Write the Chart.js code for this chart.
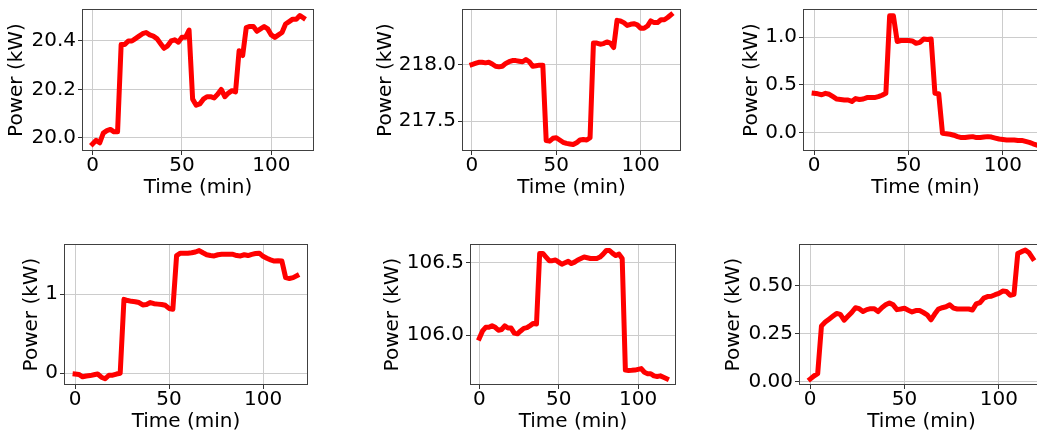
<!DOCTYPE html>
<html>
<head>
<meta charset="utf-8">
<script src="https://cdn.jsdelivr.net/npm/chart.js@4.4.1/dist/chart.umd.min.js"></script>
<style>
  html, body { margin: 0; padding: 0; background: #fff; overflow: hidden; width: 1037px; height: 434px; }
  canvas { position: absolute; }
</style>
</head>
<body>
<canvas id="c1"></canvas>
<canvas id="c2"></canvas>
<canvas id="c3"></canvas>
<canvas id="c4"></canvas>
<canvas id="c5"></canvas>
<canvas id="c6"></canvas>
<script>
// time axis (minutes)
const times = [0, 2, 4, 6, 8, 10, 12, 14, 16, 18, 20, 22, 24, 26, 28, 30, 32, 34, 36, 38,
  40, 42, 44, 46, 48, 50, 52, 54, 56, 58, 60, 62, 64, 66, 68, 70, 72, 74, 76, 78,
  80, 82, 84, 86, 88, 90, 92, 94, 96, 98, 100, 102, 104, 106, 108, 110, 112, 114, 116, 118];
const xTickLabels = ['0', '50', '100'];

// power series (kW), one per panel
const power1 = [19.975, 19.99, 19.98, 20.02, 20.03, 20.035, 20.025, 20.025, 20.385, 20.385,
  20.40, 20.40, 20.41, 20.42, 20.43, 20.435, 20.425, 20.42, 20.41, 20.39,
  20.37, 20.38, 20.40, 20.405, 20.395, 20.415, 20.415, 20.445, 20.16, 20.135,
  20.14, 20.16, 20.17, 20.17, 20.165, 20.18, 20.20, 20.17, 20.185, 20.195,
  20.19, 20.36, 20.34, 20.455, 20.46, 20.46, 20.44, 20.45, 20.46, 20.45,
  20.425, 20.415, 20.425, 20.435, 20.47, 20.48, 20.49, 20.49, 20.505, 20.495];
const power2 = [218.00, 218.01, 218.02, 218.02, 218.015, 218.02, 218.005, 217.985, 217.98, 217.985,
  218.01, 218.025, 218.035, 218.035, 218.03, 218.025, 218.045, 218.025, 217.985, 217.99,
  217.995, 217.995, 217.33, 217.325, 217.35, 217.355, 217.335, 217.315, 217.305, 217.30,
  217.295, 217.31, 217.335, 217.34, 217.335, 217.355, 218.19, 218.19, 218.18, 218.185,
  218.20, 218.19, 218.15, 218.39, 218.385, 218.37, 218.345, 218.355, 218.36, 218.35,
  218.32, 218.32, 218.34, 218.385, 218.37, 218.37, 218.395, 218.395, 218.415, 218.44];
const power3 = [0.41, 0.405, 0.395, 0.41, 0.40, 0.375, 0.35, 0.345, 0.34, 0.34,
  0.325, 0.355, 0.345, 0.35, 0.365, 0.365, 0.365, 0.375, 0.39, 0.41,
  1.225, 1.225, 0.955, 0.965, 0.965, 0.965, 0.96, 0.935, 0.945, 0.98,
  0.975, 0.98, 0.41, 0.405, -0.01, -0.015, -0.02, -0.03, -0.045, -0.055,
  -0.055, -0.05, -0.045, -0.055, -0.055, -0.05, -0.045, -0.05, -0.06, -0.07,
  -0.075, -0.08, -0.08, -0.08, -0.085, -0.085, -0.095, -0.105, -0.12, -0.133];
const power4 = [-0.01, -0.015, -0.045, -0.035, -0.03, -0.02, -0.01, -0.05, -0.07, -0.025,
  -0.025, -0.01, 0.0, 0.935, 0.92, 0.91, 0.905, 0.895, 0.865, 0.87,
  0.895, 0.88, 0.875, 0.87, 0.86, 0.82, 0.81, 1.49, 1.52, 1.52,
  1.52, 1.525, 1.535, 1.553, 1.525, 1.50, 1.49, 1.485, 1.50, 1.505,
  1.505, 1.505, 1.505, 1.49, 1.485, 1.50, 1.49, 1.505, 1.515, 1.52,
  1.48, 1.455, 1.435, 1.42, 1.425, 1.42, 1.21, 1.20, 1.21, 1.235];
const power5 = [105.98, 106.03, 106.055, 106.055, 106.065, 106.055, 106.035, 106.04, 106.065, 106.05,
  106.05, 106.015, 106.01, 106.03, 106.048, 106.053, 106.067, 106.082, 106.078, 106.565,
  106.565, 106.54, 106.515, 106.515, 106.52, 106.505, 106.49, 106.50, 106.51, 106.495,
  106.505, 106.52, 106.53, 106.54, 106.535, 106.53, 106.53, 106.53, 106.54, 106.56,
  106.585, 106.585, 106.565, 106.55, 106.56, 106.53, 105.76, 105.757, 105.758, 105.76,
  105.765, 105.77, 105.745, 105.735, 105.735, 105.72, 105.716, 105.72, 105.71, 105.70];
const power6 = [0.012, 0.028, 0.04, 0.29, 0.31, 0.325, 0.34, 0.355, 0.35, 0.32,
  0.34, 0.36, 0.385, 0.38, 0.365, 0.375, 0.38, 0.38, 0.365, 0.385,
  0.40, 0.41, 0.40, 0.375, 0.378, 0.382, 0.372, 0.363, 0.37, 0.37,
  0.36, 0.348, 0.322, 0.352, 0.378, 0.385, 0.39, 0.40, 0.383, 0.378,
  0.378, 0.378, 0.378, 0.373, 0.405, 0.412, 0.435, 0.443, 0.445, 0.453,
  0.46, 0.472, 0.47, 0.45, 0.455, 0.668, 0.678, 0.686, 0.672, 0.642];

// y tick labels per panel
const yTickLabels1 = ['20.0', '20.2', '20.4'];
const yTickLabels2 = ['217.5', '218.0'];
const yTickLabels3 = ['0.0', '0.5', '1.0'];
const yTickLabels4 = ['0', '1'];
const yTickLabels5 = ['106.0', '106.5'];
const yTickLabels6 = ['0.00', '0.25', '0.50'];

// panel placement: frame box [left, top, right, bottom], y-label centre x, y limits
const panels = [
  { id: 'c1', data: power1, yTicks: yTickLabels1, frame: [82, 9, 314, 151], yTitleX: 17, yMin: 19.946, yMax: 20.532 },
  { id: 'c2', data: power2, yTicks: yTickLabels2, frame: [462, 9, 681, 151], yTitleX: 386, yMin: 217.238, yMax: 218.49 },
  { id: 'c3', data: power3, yTicks: yTickLabels3, frame: [803, 9, 1048, 151], yTitleX: 752, yMin: -0.196, yMax: 1.296 },
  { id: 'c4', data: power4, yTicks: yTickLabels4, frame: [64, 244, 308, 385], yTitleX: 32, yMin: -0.149, yMax: 1.636 },
  { id: 'c5', data: power5, yTicks: yTickLabels5, frame: [470, 244, 676, 385], yTitleX: 393, yMin: 105.657, yMax: 106.63 },
  { id: 'c6', data: power6, yTicks: yTickLabels6, frame: [799, 244, 1044, 385], yTitleX: 734, yMin: -0.019, yMax: 0.718 }
];

const FONT = 'DejaVu Sans';
const PAD_TOP = 4, PAD_RIGHT = 4, X_AXIS_H = 49, TITLE_HALF = 12;

// axes box like matplotlib spines
const framePlugin = {
  id: 'frame',
  afterDatasetsDraw(chart) {
    const { ctx, chartArea: a } = chart;
    ctx.save();
    ctx.strokeStyle = '#404040';
    ctx.lineWidth = 1;
    ctx.strokeRect(Math.round(a.left) + 0.5, Math.round(a.top) + 0.5,
      Math.round(a.right - a.left) - 1, Math.round(a.bottom - a.top) - 1);
    ctx.restore();
  }
};

panels.forEach(p => {
  const [fl, ft, fr, fb] = p.frame;
  const left = p.yTitleX - TITLE_HALF;
  const top = ft - PAD_TOP;
  const w = fr + PAD_RIGHT - left;
  const h = fb + X_AXIS_H - top;
  const yAxisW = fl - left;

  const canvas = document.getElementById(p.id);
  canvas.width = w; canvas.height = h;
  canvas.style.left = left + 'px';
  canvas.style.top = top + 'px';
  canvas.style.width = w + 'px';
  canvas.style.height = h + 'px';

  new Chart(canvas.getContext('2d'), {
    type: 'line',
    data: {
      datasets: [{
        data: times.map((t, i) => ({ x: t, y: p.data[i] })),
        borderColor: '#ff0000',
        borderWidth: 5,
        pointRadius: 0,
        tension: 0,
        borderJoinStyle: 'round',
        borderCapStyle: 'square',
        clip: 0
      }]
    },
    options: {
      responsive: false,
      animation: false,
      events: [],
      layout: { padding: { left: 0, top: PAD_TOP, right: PAD_RIGHT, bottom: 0 } },
      plugins: { legend: { display: false }, tooltip: { enabled: false } },
      scales: {
        x: {
          type: 'linear',
          min: -5.9,
          max: 123.9,
          afterBuildTicks: s => { s.ticks = xTickLabels.map(v => ({ value: parseFloat(v) })); },
          afterFit: s => { s.height = X_AXIS_H; s.paddingLeft = 0; s.paddingRight = 0; },
          ticks: {
            callback: (v, i) => xTickLabels[i],
            font: { family: FONT, size: 20, lineHeight: 1 },
            color: '#000',
            padding: 1,
            maxRotation: 0,
            autoSkip: false
          },
          grid: { color: '#cccccc', tickColor: '#333', tickLength: 4, lineWidth: 1 },
          border: { display: false },
          title: { display: true, text: 'Time (min)', color: '#000', padding: 0,
            font: { family: FONT, size: 20, lineHeight: 1.2 } }
        },
        y: {
          min: p.yMin,
          max: p.yMax,
          afterBuildTicks: s => { s.ticks = p.yTicks.map(v => ({ value: parseFloat(v) })); },
          afterFit: s => { s.width = yAxisW; s.paddingTop = 0; s.paddingBottom = 0; },
          ticks: {
            callback: (v, i) => p.yTicks[i],
            font: { family: FONT, size: 20, lineHeight: 1.2 },
            color: '#000',
            padding: 2,
            autoSkip: false
          },
          grid: { color: '#cccccc', tickColor: '#333', tickLength: 4, lineWidth: 1 },
          border: { display: false },
          title: { display: true, text: 'Power (kW)', color: '#000', padding: 0,
            font: { family: FONT, size: 20, lineHeight: 1.2 } }
        }
      }
    },
    plugins: [framePlugin]
  });
});
</script>
</body>
</html>
